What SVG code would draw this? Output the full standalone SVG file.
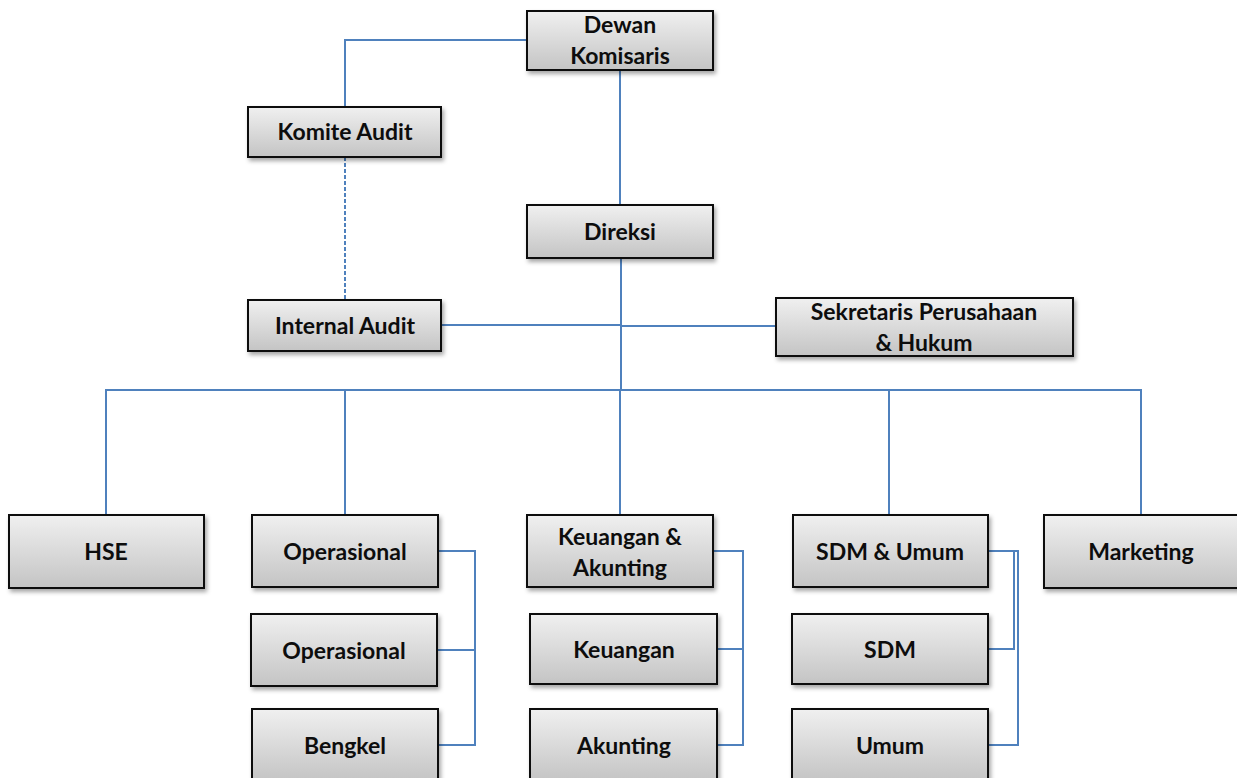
<svg xmlns="http://www.w3.org/2000/svg" width="1237" height="778" viewBox="0 0 1237 778">
<defs>
<linearGradient id="g" x1="0" y1="0" x2="0" y2="1">
<stop offset="0" stop-color="#f0f0f0"/>
<stop offset="1" stop-color="#c4c4c4"/>
</linearGradient>
<filter id="sh" x="-10%" y="-10%" width="130%" height="140%">
<feDropShadow dx="2" dy="3" stdDeviation="2" flood-color="#000" flood-opacity="0.35"/>
</filter>
</defs>
<style>
.box{fill:url(#g);stroke:#111;stroke-width:2;filter:url(#sh)}
.t{font-family:Lato,"Liberation Sans",sans-serif;font-weight:bold;font-size:23px;fill:#0d0d0d;text-anchor:middle}
.c{fill:none;stroke:#4f81bd;stroke-width:2}
.d{stroke-dasharray:4 2}
</style>
<rect width="1237" height="778" fill="#fff"/>
<g id="connectors">
<path class="c" d="M527,40 H345 V107"/>
<path class="c" d="M620,70 V205"/>
<path class="c d" d="M345,157 V300"/>
<path class="c" d="M621,258 V390"/>
<path class="c" d="M441,325 H622"/>
<path class="c" d="M776,326 H622"/>
<path class="c" d="M106,515 V390 H1141 V515"/>
<path class="c" d="M345,390 V515"/>
<path class="c" d="M620,390 V515"/>
<path class="c" d="M889,390 V515"/>
<path class="c" d="M438,551 H475 V745 H438"/>
<path class="c" d="M437,650 H475"/>
<path class="c" d="M713,551 H743 V745 H717"/>
<path class="c" d="M717,649 H743"/>
<path class="c" d="M988,551 H1014 V649 H988"/>
<path class="c" d="M988,551 H1018 V745 H988"/>
</g>
<g id="dewan"><rect class="box" x="527" y="11" width="186" height="59"/><text class="t" x="620" y="33">Dewan</text><text class="t" x="620" y="64">Komisaris</text></g>
<g id="komite"><rect class="box" x="248" y="107" width="193" height="50"/><text class="t" x="345" y="140">Komite Audit</text></g>
<g id="direksi"><rect class="box" x="527" y="205" width="186" height="53"/><text class="t" x="620" y="240">Direksi</text></g>
<g id="internal"><rect class="box" x="248" y="300" width="193" height="51"/><text class="t" x="345" y="334">Internal Audit</text></g>
<g id="sekretaris"><rect class="box" x="776" y="298" width="297" height="58"/><text class="t" x="924" y="320">Sekretaris Perusahaan</text><text class="t" x="924" y="351">&amp; Hukum</text></g>
<g id="hse"><rect class="box" x="9" y="515" width="195" height="73"/><text class="t" x="106" y="560">HSE</text></g>
<g id="operasional"><rect class="box" x="252" y="515" width="186" height="72"/><text class="t" x="345" y="560">Operasional</text></g>
<g id="keuakun"><rect class="box" x="527" y="515" width="186" height="72"/><text class="t" x="620" y="545">Keuangan &amp;</text><text class="t" x="620" y="576">Akunting</text></g>
<g id="sdmumum"><rect class="box" x="793" y="515" width="195" height="72"/><text class="t" x="890" y="560">SDM &amp; Umum</text></g>
<g id="marketing"><rect class="box" x="1044" y="515" width="195" height="73"/><text class="t" x="1141" y="560">Marketing</text></g>
<g id="operasional2"><rect class="box" x="251" y="614" width="186" height="72"/><text class="t" x="344" y="659">Operasional</text></g>
<g id="keuangan"><rect class="box" x="530" y="614" width="187" height="70"/><text class="t" x="624" y="658">Keuangan</text></g>
<g id="sdm"><rect class="box" x="792" y="614" width="196" height="70"/><text class="t" x="890" y="658">SDM</text></g>
<g id="bengkel"><rect class="box" x="252" y="709" width="186" height="72"/><text class="t" x="345" y="754">Bengkel</text></g>
<g id="akunting"><rect class="box" x="530" y="709" width="187" height="72"/><text class="t" x="624" y="754">Akunting</text></g>
<g id="umum"><rect class="box" x="792" y="709" width="196" height="72"/><text class="t" x="890" y="754">Umum</text></g>
</svg>
